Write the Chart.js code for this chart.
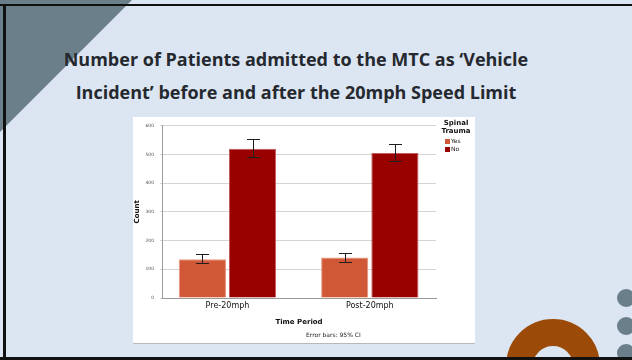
<!DOCTYPE html>
<html>
<head>
<meta charset="utf-8">
<title>Vehicle incident admissions</title>
<script src="https://cdn.jsdelivr.net/npm/chart.js"></script>
<style>
  body { margin: 0; width: 632px; height: 360px; overflow: hidden; position: relative; background: #dce6f2; }
  .corner { position: absolute; left: 0; top: 0; width: 132px; height: 132px; background: #6a7f89; clip-path: polygon(0 0, 100% 0, 0 100%); }
  .ring { position: absolute; left: 506px; top: 319px; width: 94px; height: 94px; border-radius: 50%; border: 27.5px solid #9b4a08; box-sizing: border-box; }
  .dot { position: absolute; left: 617px; width: 18px; height: 18px; border-radius: 50%; background: #6a7f89; }
  .frame-top { position: absolute; left: 0; top: 4px; width: 632px; height: 2px; background: #111; }
  .frame-left { position: absolute; left: 3px; top: 4px; width: 3px; height: 356px; background: #111; }
  .frame-bottom { position: absolute; left: 0; top: 357px; width: 632px; height: 3px; background: #111; }
  .title { position: absolute; left: 46px; top: 43px; width: 500px; text-align: center; font: 700 18px "Open Sans", sans-serif; line-height: 33px; color: #25292f; }
  .panel { position: absolute; left: 133px; top: 117px; width: 342px; height: 226px; background: #fff; border-bottom: 1px solid #b8b8b8; }
  .note { position: absolute; left: 306px; top: 331px; font: 6px "DejaVu Sans", sans-serif; color: #222; }
</style>
</head>
<body>
<div class="corner"></div>
<div class="ring"></div>
<div class="dot" style="top:289px"></div>
<div class="dot" style="top:317px"></div>
<div class="dot" style="top:344px"></div>

<div class="title">Number of Patients admitted to the MTC as ‘Vehicle<br>Incident’ before and after the 20mph Speed Limit</div>

<div class="panel">
  <canvas id="spinalChart"></canvas>
</div>
<div class="note">Error bars: 95% CI</div>

<div class="frame-top"></div>
<div class="frame-left"></div>
<div class="frame-bottom"></div>

<script>
    const categories = ['Pre-20mph', 'Post-20mph'];
    const seriesNames = ['Yes', 'No'];
    const yesCounts = [135, 141];
    const noCounts = [520, 505];
    // 95% confidence interval bounds per bar
    const yesLow = [121, 124];
    const yesHigh = [152, 157];
    const noLow = [491, 476];
    const noHigh = [554, 538];
    const countTicks = [0, 100, 200, 300, 400, 500, 600];

    const font = '"DejaVu Sans", sans-serif';

    const errorBars = {
        id: 'errorBars',
        afterDatasetsDraw(chart) {
            const ctx = chart.ctx;
            const y = chart.scales.y;
            ctx.save();
            ctx.strokeStyle = '#1e1e1e';
            ctx.lineWidth = 1;
            chart.data.datasets.forEach((ds, i) => {
                chart.getDatasetMeta(i).data.forEach((bar, j) => {
                    const top = Math.round(y.getPixelForValue(ds.ciHigh[j])) + 0.5;
                    const bottom = Math.round(y.getPixelForValue(ds.ciLow[j])) + 0.5;
                    const x = Math.round(bar.x) + 0.5;
                    ctx.beginPath();
                    ctx.moveTo(x, top);
                    ctx.lineTo(x, bottom);
                    ctx.moveTo(x - 6.5, top);
                    ctx.lineTo(x + 6.5, top);
                    ctx.moveTo(x - 6.5, bottom);
                    ctx.lineTo(x + 6.5, bottom);
                    ctx.stroke();
                });
            });
            ctx.restore();
        }
    };

    // legend box on the right, title split over two lines
    const sideLegend = {
        id: 'sideLegend',
        afterDraw(chart) {
            const ctx = chart.ctx;
            const cx = chart.chartArea.right + 20;
            ctx.save();
            ctx.fillStyle = '#111';
            ctx.textAlign = 'center';
            ctx.textBaseline = 'middle';
            ctx.font = 'bold 7px ' + font;
            ctx.fillText('Spinal', cx, 6);
            ctx.fillText('Trauma', cx, 14);
            ctx.textAlign = 'left';
            ctx.font = '6px ' + font;
            chart.data.datasets.forEach((ds, i) => {
                const yy = 22 + i * 8;
                ctx.fillStyle = ds.backgroundColor;
                ctx.fillRect(cx - 11, yy, 5, 5);
                ctx.fillStyle = '#111';
                ctx.fillText(ds.label, cx - 5, yy + 2.5);
            });
            ctx.restore();
        }
    };

    document.addEventListener('DOMContentLoaded', function () {
        const ctx = document.getElementById('spinalChart').getContext('2d');
        new Chart(ctx, {
            type: 'bar',
            data: {
                // numeric positions on a linear x axis, named through the tick callback
                labels: categories.map((c, i) => i),
                datasets: [
                    {
                        label: seriesNames[0],
                        data: yesCounts,
                        ciLow: yesLow,
                        ciHigh: yesHigh,
                        backgroundColor: '#d05836',
                        borderColor: '#e8937a',
                        borderWidth: 1
                    },
                    {
                        label: seriesNames[1],
                        data: noCounts,
                        ciLow: noLow,
                        ciHigh: noHigh,
                        backgroundColor: '#990000',
                        borderColor: '#c45a5a',
                        borderWidth: 1
                    }
                ]
            },
            options: {
                responsive: true,
                maintainAspectRatio: false,
                animation: false,
                categoryPercentage: 0.705,
                barPercentage: 0.94,
                layout: {
                    padding: { top: 7, right: 39, bottom: 17, left: 0 }
                },
                scales: {
                    x: {
                        type: 'linear',
                        offset: false,
                        min: -0.46,
                        max: 1.465,
                        afterBuildTicks(scale) { scale.ticks = categories.map((c, i) => ({ value: i })); },
                        grid: { display: false, drawTicks: false },
                        border: { color: '#9a9a9a' },
                        ticks: {
                            color: '#111',
                            padding: 3,
                            font: { family: font, size: 8 },
                            callback: v => categories[v]
                        },
                        title: {
                            display: true,
                            text: 'Time Period',
                            color: '#111',
                            padding: { top: 4, bottom: 0 },
                            font: { family: font, size: 7, weight: 'bold' }
                        },
                        afterFit(scale) { scale.height = 28; }
                    },
                    y: {
                        min: 0,
                        max: 600,
                        afterBuildTicks(scale) { scale.ticks = countTicks.map(v => ({ value: v })); },
                        grid: { color: '#d4d4d4', tickLength: 2 },
                        border: { color: '#9a9a9a' },
                        ticks: { color: '#555', padding: 6, font: { family: font, size: 4.5 } },
                        title: {
                            display: true,
                            text: 'Count',
                            color: '#111',
                            padding: { top: 0, bottom: 0 },
                            font: { family: font, size: 7, weight: 'bold' }
                        },
                        afterFit(scale) { scale.width = 29; }
                    }
                },
                plugins: {
                    legend: { display: false },
                    tooltip: { enabled: false }
                }
            },
            plugins: [errorBars, sideLegend]
        });
    });
</script>
</body>
</html>
